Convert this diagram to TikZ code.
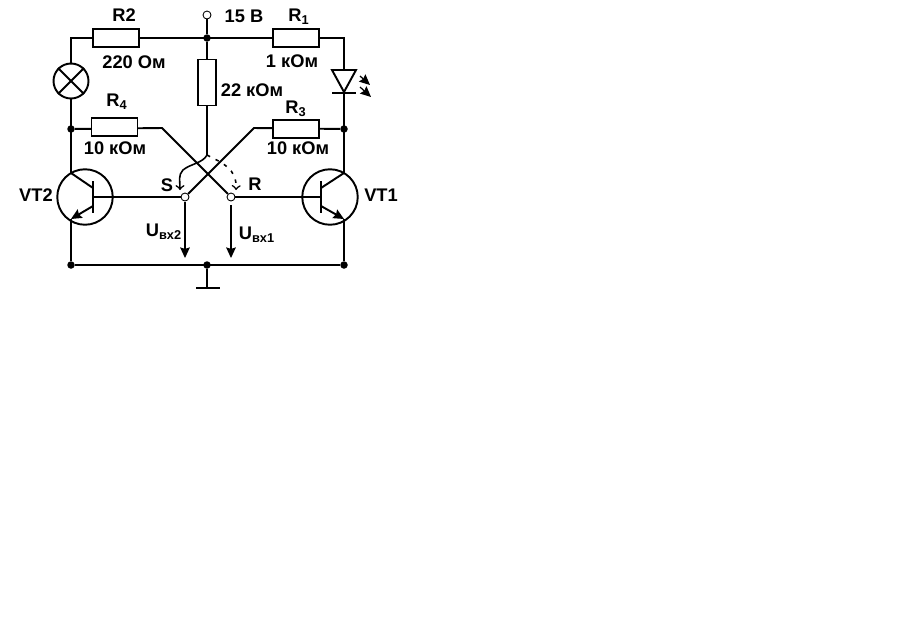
\documentclass[tikz,border=0pt]{standalone}
\usepackage{fontspec}
\setmainfont{Liberation Sans}
\usetikzlibrary{arrows.meta}
\tikzstyle{wire} = [line width=1.1pt]
\tikzstyle{thinwire} = [line width=0.7pt]
\tikzstyle{resistance} = [rectangle, draw=black, fill=white, line width=1.1pt, minimum width=0.92cm, minimum height=0.36cm, inner sep=0pt]
\tikzstyle{jonction} = [circle, fill=black, minimum size=0.15cm, inner sep=0pt]
\tikzstyle{borne} = [circle, draw=black, fill=white, line width=0.5pt, minimum size=0.16cm, inner sep=0pt]
\tikzstyle{boitier} = [circle, draw=black, line width=1.1pt, minimum size=1.11cm, inner sep=0pt]
\tikzstyle{etiquette} = [inner sep=0pt, font=\bfseries\fontsize{10.4}{10.4}\selectfont]
\tikzstyle{fleche} = [-{Stealth[length=6pt,width=5.5pt,inset=0.8pt]}]
\begin{document}
\begin{tikzpicture}[x=0.02cm, y=-0.02cm]

        \useasboundingbox (0,0) rectangle (922,643);

        % alimentation
        \node (Vcc) [borne] at (207,15) {};
        \node (Jhaut) [jonction] at (207,38) {};
        \node (Jbas) [jonction] at (207,265) {};
        \node (JbasG) [jonction] at (71,265) {};
        \node (JbasD) [jonction] at (344,265) {};
        \node (JR4) [jonction] at (71,129) {};
        \node (JR3) [jonction] at (344,129) {};
        \coordinate (CoinG) at (71,38);
        \coordinate (CoinD) at (344,38);
        \coordinate (Masse) at (207,288);
        \coordinate (MasseG) at (196,288);
        \coordinate (MasseD) at (220,288);

        \node (S) [borne] at (185,197) {};
        \node (R) [borne] at (231,197) {};
        \coordinate (CoudeR4) at (162,128);
        \coordinate (CoudeR3) at (254,128);

        % transistors
        \node (VT2) [boitier] at (85,197) {};
        \node (VT1) [boitier] at (330,197) {};
        \coordinate (ColG) at (71,173);
        \coordinate (ColD) at (344,173);
        \coordinate (EmG) at (71,219);
        \coordinate (EmD) at (344,219);
        \coordinate (BaseG) at (93,197);
        \coordinate (BaseD) at (321,197);

        % fils sous les composants
        \draw[wire] (Vcc) -- (Jhaut);
        \draw[wire] (ColG) -- (CoinG) -- (CoinD) -- (ColD);
        \draw[wire] (EmG) -- (JbasG) -- (JbasD) -- (EmD);
        \draw[wire] (Jhaut) -- (207,155);
        \draw[wire] (Jbas) -- (Masse);
        \draw[wire] (MasseG) -- (MasseD);
        \draw[wire] (JR4) -- (CoudeR4) -- (R);
        \draw[wire] (JR3) -- (CoudeR3) -- (S);

        % resistances
        \node (R2) [resistance] at (116,38) {};
        \node (R1) [resistance] at (296,38) {};
        \node (R4) [resistance] at (114.5,127) {};
        \node (R3) [resistance] at (296,129) {};
        \node (R22) [resistance, minimum width=0.36cm, minimum height=0.92cm] at (207,82.5) {};

        % lampe
        \node (Lampe) [circle, draw=black, fill=white, line width=1.1pt, minimum size=0.7cm, inner sep=0pt] at (71,81) {};
        \draw[wire] (Lampe.45) -- (Lampe.225);
        \draw[wire] (Lampe.135) -- (Lampe.315);

        % diode
        \coordinate (DiodeG) at (332,70);
        \coordinate (DiodeD) at (356,70);
        \coordinate (DiodeP) at (344,92);
        \coordinate (BarreG) at (332,93);
        \coordinate (BarreD) at (356,93);
        \draw[wire, fill=white] (DiodeG) -- (DiodeD) -- (DiodeP) -- cycle;
        \draw[wire] (BarreG) -- (BarreD);
        \coordinate (Ray1a) at (360,76);
        \coordinate (Ray1b) at (370,85);
        \coordinate (Ray2a) at (360,87);
        \coordinate (Ray2b) at (371,97);
        \draw[thinwire, fleche] (Ray1a) -- (Ray1b);
        \draw[thinwire, fleche] (Ray2a) -- (Ray2b);

        % liaisons des transistors
        \draw[wire] (S) -- (BaseG);
        \draw[wire] (R) -- (BaseD);
        \draw[wire] (93,181) -- (93,213);
        \draw[wire] (321,181) -- (321,213);
        \draw[wire] (93,188) -- (ColG);
        \draw[wire] (321,188) -- (ColD);
        \draw[wire, fleche] (93,206) -- (EmG);
        \draw[wire, fleche] (321,206) -- (EmD);

        % commandes
        \draw[line width=0.9pt, -to] (207,155) .. controls (203,163) and (190,164) .. (183,170) .. controls (178,175) and (180,181) .. (180,190);
        \draw[line width=0.9pt, dash pattern=on 2pt off 3.5pt, -to] (207,155) .. controls (222,163) and (237,168) .. (236,190);
        \draw[thinwire, fleche] (185,202) -- (185,258);
        \draw[thinwire, fleche] (231,205) -- (231,258);

        % textes
        \node (tR2) [etiquette] at (124,15) {R2};
        \node (vR2) [etiquette] at (134,62) {220 Ом};
        \node (tR1) [etiquette] at (299,17) {R\textsubscript{1}};
        \node (vR1) [etiquette] at (292,61) {1 кОм};
        \node (tR4) [etiquette] at (117,102) {R\textsubscript{4}};
        \node (vR4) [etiquette] at (115,148) {10 кОм};
        \node (tR3) [etiquette] at (296,109) {R\textsubscript{3}};
        \node (vR3) [etiquette] at (298,148) {10 кОм};
        \node (vR22) [etiquette] at (252,90) {22 кОм};
        \node (tVcc) [etiquette] at (244,16) {15 В};
        \node (tS) [etiquette] at (167,185) {S};
        \node (tR) [etiquette] at (255,184) {R};
        \node (tVT2) [etiquette] at (36,195) {VT2};
        \node (tVT1) [etiquette] at (381,195) {VT1};
        \node (tUvx2) [etiquette] at (164,232) {U\textsubscript{вх2}};
        \node (tUvx1) [etiquette] at (257,235) {U\textsubscript{вх1}};

\end{tikzpicture}
\end{document}
